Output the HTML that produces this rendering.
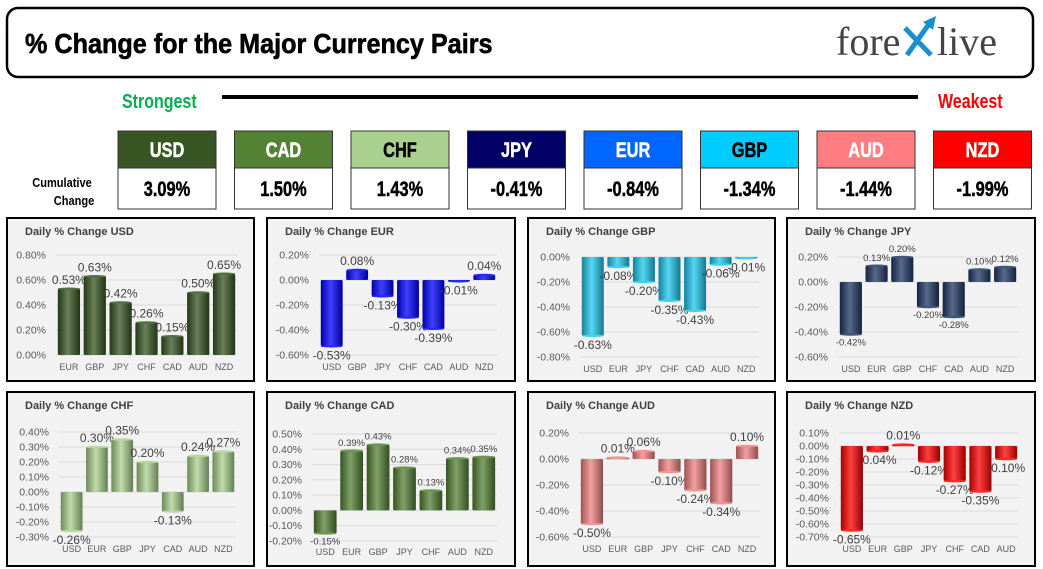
<!DOCTYPE html>
<html><head><meta charset="utf-8"><style>
html,body{margin:0;padding:0;background:#fff;}
svg{display:block;}
text{font-family:"Liberation Sans",sans-serif;}
</style></head><body>
<svg id="s" width="1043" height="569" viewBox="0 0 1043 569" xmlns="http://www.w3.org/2000/svg">
<defs id="defs"></defs>
<rect x="7" y="8" width="1026" height="69" rx="11" fill="#fff" stroke="#000" stroke-width="2.5"/>
<text x="25" y="53" font-size="28" font-weight="bold" stroke="#000" stroke-width="0.6" transform="translate(25 0) scale(0.9 1) translate(-25 0)">% Change for the Major Currency Pairs</text>
<g>
<text x="836" y="55" font-size="40" fill="#444" style="font-family:'Liberation Serif',serif">fore</text>
<path d="M905 28 L931 55 M907 55 L929 24" stroke="#1a8fd0" stroke-width="5" fill="none"/>
<path d="M923 22 L936 16 L933 30 Z" fill="#1a8fd0"/>
<text x="937" y="55" font-size="40" fill="#444" style="font-family:'Liberation Serif',serif">live</text>
</g>
<text x="122" y="108" font-size="20" font-weight="bold" fill="#00b050" transform="translate(122 0) scale(0.8 1) translate(-122 0)">Strongest</text>
<line x1="222" y1="97" x2="918" y2="97" stroke="#000" stroke-width="4"/>
<text x="938" y="108" font-size="20" font-weight="bold" fill="#ff0000" transform="translate(938 0) scale(0.8 1) translate(-938 0)">Weakest</text>
<text x="62" y="187" font-size="13" font-weight="bold" text-anchor="middle" transform="translate(62 0) scale(0.85 1) translate(-62 0)">Cumulative</text>
<text x="74" y="205" font-size="13" font-weight="bold" text-anchor="middle" transform="translate(74 0) scale(0.85 1) translate(-74 0)">Change</text>
<g id="cum"></g>
<g id="panels"></g>
</svg>
<script>
const NS='http://www.w3.org/2000/svg';
function mk(tag,attrs,parent){const e=document.createElementNS(NS,tag);for(const k in attrs)e.setAttribute(k,attrs[k]);if(parent)parent.appendChild(e);return e;}
const defs=document.getElementById('defs');

// Cumulative strength data
const cumCurrencies=['USD','CAD','CHF','JPY','EUR','GBP','AUD','NZD'];
const cumValues=[3.09,1.50,1.43,-0.41,-0.84,-1.34,-1.44,-1.99];
const cumColors=['#375623','#548235','#a9d08e','#000066','#0066ff','#00ccff','#ff7c80','#ff0000'];
const cumText=['#fff','#fff','#000','#fff','#fff','#000','#fff','#fff'];
const cumG=document.getElementById('cum');
cumCurrencies.forEach((c,i)=>{
  const x=118+i*116.5, w=98;
  const g=mk('g',{},cumG);
  
  
  mk('rect',{x:x,y:131,width:w,height:37,fill:cumColors[i],stroke:'#333','stroke-width':1},g);
  mk('rect',{x:x,y:168,width:w,height:41,fill:'#fff',stroke:'#333','stroke-width':1},g);
  const cx=x+w/2;
  const t1=mk('text',{x:cx,y:157,'font-size':21,'font-weight':'bold','text-anchor':'middle',fill:cumText[i],stroke:cumText[i],'stroke-width':0.5,transform:`translate(${cx} 0) scale(0.78 1) translate(${-cx} 0)`},g);
  t1.textContent=c;
  const t2=mk('text',{x:cx,y:196,'font-size':21,'font-weight':'bold','text-anchor':'middle',fill:'#000',stroke:'#000','stroke-width':0.5,transform:`translate(${cx} 0) scale(0.78 1) translate(${-cx} 0)`},g);
  t2.textContent=cumValues[i].toFixed(2)+'%';
});

// Daily panel data
const usdCats=['EUR','GBP','JPY','CHF','CAD','AUD','NZD'];
const usdVals=[0.53,0.63,0.42,0.26,0.15,0.50,0.65];
const eurCats=['USD','GBP','JPY','CHF','CAD','AUD','NZD'];
const eurVals=[-0.53,0.08,-0.13,-0.30,-0.39,-0.01,0.04];
const gbpCats=['USD','EUR','JPY','CHF','CAD','AUD','NZD'];
const gbpVals=[-0.63,-0.08,-0.20,-0.35,-0.43,-0.06,-0.01];
const jpyCats=['USD','EUR','GBP','CHF','CAD','AUD','NZD'];
const jpyVals=[-0.42,0.13,0.20,-0.20,-0.28,0.10,0.12];
const chfCats=['USD','EUR','GBP','JPY','CAD','AUD','NZD'];
const chfVals=[-0.26,0.30,0.35,0.20,-0.13,0.24,0.27];
const cadCats=['USD','EUR','GBP','JPY','CHF','AUD','NZD'];
const cadVals=[-0.15,0.39,0.43,0.28,0.13,0.34,0.35];
const audCats=['USD','EUR','GBP','JPY','CHF','CAD','NZD'];
const audVals=[-0.50,0.01,0.06,-0.10,-0.24,-0.34,0.10];
const nzdCats=['USD','EUR','GBP','JPY','CHF','CAD','AUD'];
const nzdVals=[-0.65,-0.04,0.01,-0.12,-0.27,-0.35,-0.10];
const usdTicks=[0.8,0.6,0.4,0.2,0.0];
const eurTicks=[0.2,0.0,-0.2,-0.4,-0.6];
const gbpTicks=[0.0,-0.2,-0.4,-0.6,-0.8];
const jpyTicks=[0.2,0.0,-0.2,-0.4,-0.6];
const chfTicks=[0.4,0.3,0.2,0.1,0.0,-0.1,-0.2,-0.3];
const cadTicks=[0.5,0.4,0.3,0.2,0.1,0.0,-0.1,-0.2];
const audTicks=[0.2,0.0,-0.2,-0.4,-0.6];
const nzdTicks=[0.1,0.0,-0.1,-0.2,-0.3,-0.4,-0.5,-0.6,-0.7];

const panels=[
 {name:'USD',cats:usdCats,vals:usdVals,ticks:usdTicks,box:[7,218,247,163],plot:[56,237,255,355],catY:370,col:'#375623',lf:12},
 {name:'EUR',cats:eurCats,vals:eurVals,ticks:eurTicks,box:[267,218,248,163],plot:[319,497,255,355],catY:370,col:'#0000ff',lf:12},
 {name:'GBP',cats:gbpCats,vals:gbpVals,ticks:gbpTicks,box:[528,218,247,163],plot:[580,759,257,357],catY:372,col:'#1fc8ef',lf:12},
 {name:'JPY',cats:jpyCats,vals:jpyVals,ticks:jpyTicks,box:[787,218,248,163],plot:[838,1018,257,357],catY:372,col:'#1f3864',lf:9.5},
 {name:'CHF',cats:chfCats,vals:chfVals,ticks:chfTicks,box:[7,392,247,174],plot:[59,236,432,537],catY:552,col:'#a9d18e',lf:12},
 {name:'CAD',cats:cadCats,vals:cadVals,ticks:cadTicks,box:[267,392,248,174],plot:[312,497,434,541],catY:555,col:'#548235',lf:9.5},
 {name:'AUD',cats:audCats,vals:audVals,ticks:audTicks,box:[528,392,247,174],plot:[579,760,433,537],catY:552,col:'#f08080',lf:12},
 {name:'NZD',cats:nzdCats,vals:nzdVals,ticks:nzdTicks,box:[787,392,248,174],plot:[839,1019,433,537],catY:552,col:'#ff0000',lf:12}
];
function shade(hex,f){const n=parseInt(hex.slice(1),16);let r=n>>16,g=(n>>8)&255,b=n&255;
 const m=v=>Math.max(0,Math.min(255,Math.round(f<0?v*(1+f):v+(255-v)*f)));return `rgb(${m(r)},${m(g)},${m(b)})`;}
const pg=document.getElementById('panels');
panels.forEach(p=>{
  const g=mk('g',{},pg);
  
  
  const gid='grad'+p.name;
  const lg=mk('linearGradient',{id:gid,x1:0,y1:0,x2:1,y2:0},defs);
  mk('stop',{offset:'0','stop-color':shade(p.col,-0.35)},lg);
  mk('stop',{offset:'0.45','stop-color':shade(p.col,0.25)},lg);
  mk('stop',{offset:'1','stop-color':shade(p.col,-0.4)},lg);
  const [bx,by,bw,bh]=p.box;
  const bg=mk('rect',{x:bx,y:by,width:bw,height:bh,fill:'#f2f2f2',stroke:'#000','stroke-width':2},g);
  
  
  const tt=mk('text',{x:bx+18,y:by+17,'font-size':11,'font-weight':'bold',fill:'#404040'},g);
  
  
  tt.textContent='Daily % Change '+p.name;
  const [x0,x1,yt,yb]=p.plot;
  const vmax=Math.max(...p.ticks), vmin=Math.min(...p.ticks);
  const yS=v=>yt+(vmax-v)/(vmax-vmin)*(yb-yt);
  p.ticks.forEach(t=>{
    const y=yS(t);
    const gl=mk('line',{x1:x0,y1:y,x2:x1,y2:y,stroke:'#d9d9d9','stroke-width':1},g);
    
    
    const tl=mk('text',{x:x0-10,y:y+3.5,'font-size':10.5,'text-anchor':'end',fill:'#595959'},g);
    
    
    tl.textContent=t.toFixed(2)+'%';
  });
  const n=p.cats.length, band=(x1-x0)/n, w=band*0.86;
  const y0=yS(0);
  p.cats.forEach((c,i)=>{
    const v=p.vals[i];
    const cx=x0+band*(i+0.5);
    const yv=yS(v);
    const top=Math.min(yv,y0), h=Math.max(Math.abs(yv-y0),1.5);
    const r=mk('rect',{x:cx-w/2,y:top,width:w,height:h,fill:`url(#${gid})`,rx:1.5},g);
    
    
    mk('ellipse',{cx:cx,cy:yv,rx:w/2,ry:1.3,fill:shade(p.col,0.15)},g);
    const ly=v>=0?yv-5:yv+(p.lf>10?13:11);
    const vl=mk('text',{x:cx,y:ly,'font-size':p.lf,'text-anchor':'middle',fill:'#404040'},g);
    
    
    vl.textContent=v.toFixed(2)+'%';
    const cl=mk('text',{x:cx,y:p.catY,'font-size':9,'text-anchor':'middle',fill:'#595959'},g);
    
    
    cl.textContent=c;
  });
});
</script>
</body></html>
